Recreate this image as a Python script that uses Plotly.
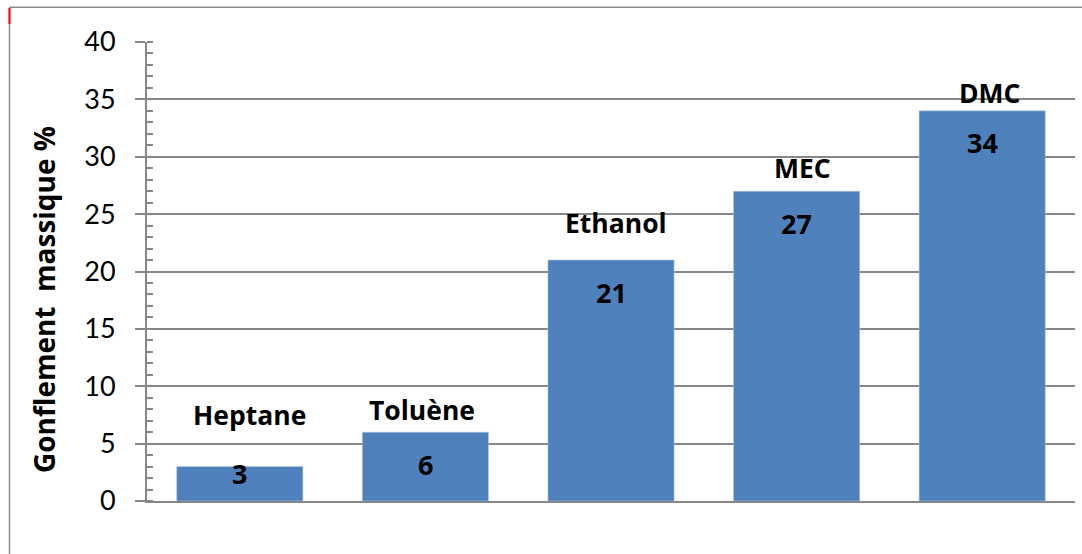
import plotly.graph_objects as go

# ---- data ----
categories = ["Heptane", "Toluène", "Ethanol", "MEC", "DMC"]
values = [3, 6, 21, 27, 34]
y_ticks = [0, 5, 10, 15, 20, 25, 30, 35, 40]

# ---- style / layout ----
W, H = 1082, 554
ML, MR, MT, MB = 147, 7, 42, 53
plot_w = W - ML - MR
plot_h = H - MT - MB
y_max = 40
px_per_unit = plot_h / y_max

bar_color = "#4F81BD"
grid_color = "#878787"
tick_font = "Lato, 'Open Sans', sans-serif"
bold_font = "'Open Sans', Lato, sans-serif"

# name label offsets (px above bar top) and horizontal shifts
name_yshift = [52, 22, 37, 23, 18]
name_xshift = [10, -3, 5, 6, 8]

fig = go.Figure()
fig.add_trace(go.Bar(
    x=categories, y=values,
    marker=dict(color=bar_color, line=dict(color="#b8cce4", width=0.5)),
    hoverinfo="x+y",
))

annotations = []
for i, (c, v) in enumerate(zip(categories, values)):
    bar_px = v * px_per_unit
    annotations.append(dict(
        x=c, y=v, xref="x", yref="y", text=f"<b>{v}</b>", showarrow=False,
        yanchor="middle", yshift=-min(32, bar_px - 28),
        font=dict(family=bold_font, size=27, color="black"),
    ))
    annotations.append(dict(
        x=c, y=v, xref="x", yref="y", text=f"<b>{c}</b>", showarrow=False,
        yanchor="middle", yshift=name_yshift[i], xshift=name_xshift[i],
        font=dict(family=bold_font, size=26.5, color="black"),
    ))

annotations.append(dict(
    x=(44 - ML) / plot_w, y=(MT + plot_h - 300) / plot_h, xref="paper", yref="paper",
    text="<b>Gonflement\u00a0 massique %</b>", textangle=-90, showarrow=False,
    xanchor="center", yanchor="middle",
    font=dict(family=bold_font, size=28, color="black"),
))

def px_x(p):
    return (p - ML) / plot_w

def px_y(p):
    return (MT + plot_h - p) / plot_h

shapes = [
    dict(type="line", xref="paper", yref="paper", x0=px_x(9.5), x1=px_x(1085),
         y0=px_y(7.2), y1=px_y(7.2), line=dict(color="#8c8c8c", width=1.5)),
    dict(type="line", xref="paper", yref="paper", x0=px_x(9.5), x1=px_x(9.5),
         y0=px_y(7.2), y1=px_y(560), line=dict(color="#8c8c8c", width=1.5)),
    dict(type="line", xref="paper", yref="paper", x0=px_x(9.5), x1=px_x(9.5),
         y0=px_y(8), y1=px_y(24), line=dict(color="#ff0000", width=2)),
]

fig.update_layout(
    width=W, height=H,
    margin=dict(l=ML, r=MR, t=MT, b=MB, pad=0),
    paper_bgcolor="white", plot_bgcolor="white",
    bargap=0.32,
    showlegend=False,
    annotations=annotations,
    shapes=shapes,
    font=dict(family=tick_font, color="black"),
)
fig.update_yaxes(
    range=[0, y_max], tickvals=y_ticks, ticktext=[str(t) for t in y_ticks],
    showgrid=True, gridcolor=grid_color, gridwidth=2,
    showline=True, linecolor=grid_color, linewidth=2,
    ticks="outside", ticklen=10, tickcolor=grid_color, tickwidth=2,
    minor=dict(ticks="inside", ticklen=6, dtick=1, tickcolor=grid_color, tickwidth=2, showgrid=False),
    tickfont=dict(family=tick_font, size=27, color="black"),
    ticklabelstandoff=14,
    zeroline=False, fixedrange=True,
)
fig.update_xaxes(
    showline=True, linecolor=grid_color, linewidth=2,
    showticklabels=False, ticks="", showgrid=False, fixedrange=True,
)

fig.write_html(
    "out.html",
    config={"displayModeBar": False},
    post_script="document.body.style.margin='0';document.body.style.overflow='hidden';",
)
